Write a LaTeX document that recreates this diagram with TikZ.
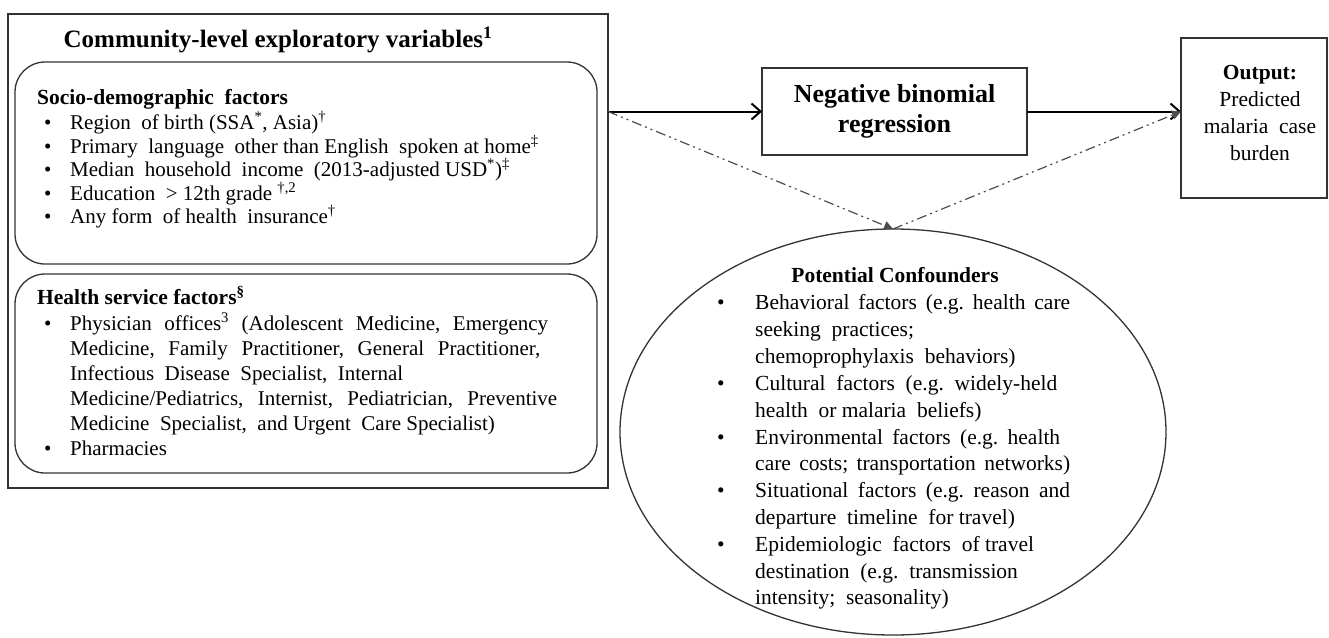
\documentclass[tikz,border=0pt]{standalone}
\usepackage{fontspec}
\setmainfont{Liberation Serif}
\usetikzlibrary{arrows.meta,shapes.geometric}
\newcommand{\lbul}{\makebox[26pt][l]{\textbullet}}
\newcommand{\ebul}{\makebox[38pt][l]{\textbullet}}
\frenchspacing
\begin{document}
\begin{tikzpicture}[x=1pt,y=-1pt,
 frame/.style={draw=black!80, line width=1.3pt, inner sep=0pt, outer sep=0pt},
 lt/.style={anchor=base west, inner sep=0pt, font=\fontsize{21}{24}\selectfont},
 lh/.style={anchor=base west, inner sep=0pt, font=\bfseries\fontsize{21.5}{24}\selectfont},
 et/.style={anchor=base west, inner sep=0pt, font=\fontsize{21.5}{25}\selectfont},
 main/.style={line width=2pt, -{Straight Barb[length=9pt,width=16pt,line width=2pt]}},
 conf/.style={line width=1.2pt, black!70, dash pattern=on 10pt off 4pt on 2pt off 4pt on 2pt off 4pt, -{Triangle[length=9pt,width=9pt]}},
]
\useasboundingbox (0,0) rectangle (1329,637);

% boxes
\node[frame, minimum width=600pt, minimum height=474pt, anchor=north west] (L) at (8,14) {};
\node[frame, rounded corners=30pt, minimum width=582pt, minimum height=202pt, anchor=north west] (S) at (15,62) {};
\node[frame, rounded corners=30pt, minimum width=582pt, minimum height=199pt, anchor=north west] (H) at (15,274) {};
\node[frame, minimum width=265pt, minimum height=87pt, anchor=north west] (N) at (762,68) {};
\node[frame, minimum width=146pt, minimum height=160pt, anchor=north west] (O) at (1181,38) {};
\node[frame, ellipse, minimum width=546pt, minimum height=406pt] (E) at (893,432) {};

% left box texts
\node[font=\bfseries\fontsize{25}{29}\selectfont, inner sep=0pt] (T) at (278,40) {Community-level exploratory variables\textsuperscript{1}};
\node[lh] (s0) at (37,104.5) {Socio-demographic\ \ factors};
\node[lt] (s1) at (44,129.5) {\lbul Region\ \ of birth (SSA\textsuperscript{*}, Asia)\textsuperscript{†}};
\node[lt] (s2) at (44,153) {\lbul Primary\ \ language\ \ other than English\ \ spoken at home\textsuperscript{‡}};
\node[lt] (s3) at (44,176.5) {\lbul Median\ \ household\ \ income\ \ (2013-adjusted USD\textsuperscript{*})\textsuperscript{‡}};
\node[lt] (s4) at (44,200) {\lbul Education\ \ > 12th grade \textsuperscript{†,2}};
\node[lt] (s5) at (44,223.5) {\lbul Any form\ \ of health\ \ insurance\textsuperscript{†}};

\node[lh] (h0) at (37,304.5) {Health service factors\textsuperscript{§}};
\node[lt] (h1) at (44,330.5) {\lbul\makebox[478pt][s]{Physician offices\textsuperscript{3} (Adolescent Medicine, Emergency}};
\node[lt] (h2) at (70,355.5) {\makebox[470pt][s]{Medicine, Family Practitioner, General Practitioner,}};
\node[lt] (h3) at (70,380.5) {Infectious\ \ Disease\ \ Specialist,\ \ Internal};
\node[lt] (h4) at (70,405.5) {\makebox[487pt][s]{Medicine/Pediatrics, Internist, Pediatrician, Preventive}};
\node[lt] (h5) at (70,430.5) {Medicine\ \ Specialist,\ \ and Urgent\ \ Care Specialist)};
\node[lt] (h6) at (44,455.5) {\lbul Pharmacies};

% regression box
\node[font=\bfseries\fontsize{26}{30}\selectfont, align=center, inner sep=0pt] (Nt) at (N.center) {Negative binomial\\regression};

% output box
\node[align=center, inner sep=0pt, font=\fontsize{21.5}{27}\selectfont] (Ot) at (1260,113) {\textbf{Output:}\\Predicted\\malaria\ \ case\\burden};

% confounders
\node[anchor=base, inner sep=0pt, font=\bfseries\fontsize{21.5}{25}\selectfont] (c0) at (895,282) {Potential Confounders};
\node[et] (c1) at (717,309.5) {\ebul\makebox[315pt][s]{Behavioral factors (e.g. health care}};
\node[et] (c2) at (755,336.5) {seeking\ \ practices;};
\node[et] (c3) at (755,363.5) {chemoprophylaxis\ \ behaviors)};
\node[et] (c4) at (717,390) {\ebul Cultural\ \ factors\ \ (e.g.\ \ widely-held};
\node[et] (c5) at (755,417) {health\ \ or malaria\ \ beliefs)};
\node[et] (c6) at (717,444) {\ebul\makebox[305pt][s]{Environmental factors (e.g. health}};
\node[et] (c7) at (755,470.5) {\makebox[315pt][s]{care costs; transportation networks)}};
\node[et] (c8) at (717,497.5) {\ebul\makebox[315pt][s]{Situational factors (e.g. reason and}};
\node[et] (c9) at (755,524) {departure\ \ timeline\ \ for travel)};
\node[et] (c10) at (717,551) {\ebul Epidemiologic\ \ factors\ \ of travel};
\node[et] (c11) at (755,578) {destination\ \ (e.g.\ \ transmission};
\node[et] (c12) at (755,604.5) {intensity;\ \ seasonality)};

% connectors
\coordinate (a) at (N.west -| L.east);
\coordinate (b) at (N.east -| O.west);
\draw[main] (a) -- (N.west);
\draw[main] (N.east) -- (b);
\draw[conf] (a) -- (E.north);
\draw[conf] (E.north) -- (b);
\end{tikzpicture}
\end{document}
